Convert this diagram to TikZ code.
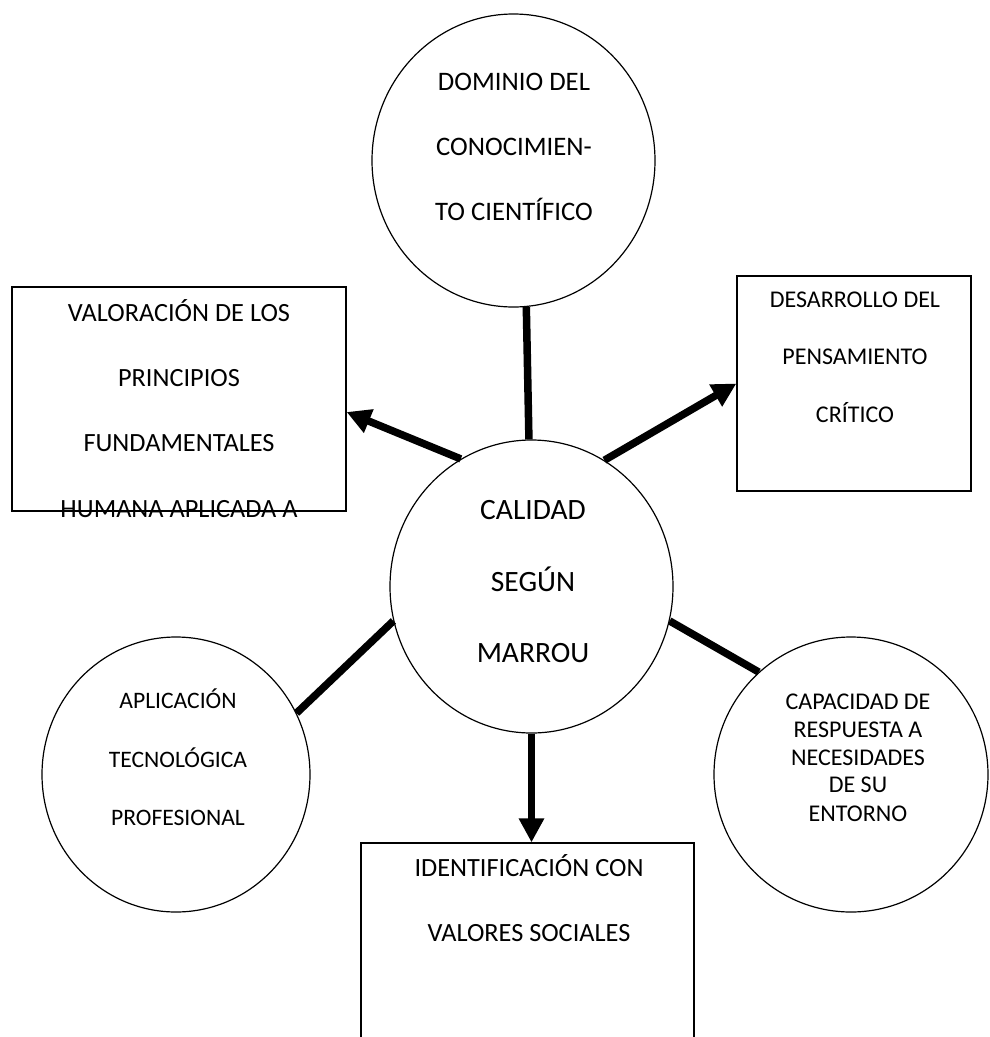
\documentclass[tikz,border=0pt]{standalone}
\usepackage{fontspec}
\setmainfont{Carlito}
\usetikzlibrary{shapes.geometric,arrows.meta}
\tikzset{
  shp/.style={draw, line width=1.2pt, inner sep=0pt, fill=white},
  oval/.style={shp, ellipse},
  boxs/.style={shp, rectangle},
  conn/.style={line width=7.5pt},
  arr/.style={conn, -{Triangle[length=24pt,width=24pt]}},
  txt/.style={anchor=base, inner sep=0pt},
}
\newcommand{\fs}[1]{\fontsize{#1}{#1}\selectfont}
\begin{document}
\begin{tikzpicture}[x=1pt,y=-1pt]
\useasboundingbox (0,0) rectangle (990,1037);
\clip (0,0) rectangle (990,1037);
% shapes
\node[oval, minimum width=283pt, minimum height=293pt] (dom) at (513.5,160.5) {};
\node[oval, minimum width=283pt, minimum height=293pt] (cal) at (531.5,586.5) {};
\node[oval, minimum width=268pt, minimum height=275pt] (apl) at (176,774.5) {};
\node[oval, minimum width=274pt, minimum height=275pt] (cap) at (851,774.5) {};
\node[boxs, minimum width=334pt, minimum height=224pt] (val) at (179,399) {};
\node[boxs, minimum width=234pt, minimum height=215pt] (des) at (854,383.5) {};
\node[boxs, minimum width=333pt, minimum height=230pt] (ide) at (527.5,958) {};
% connectors
\draw[conn] (dom.-85.5) -- (cal.91);
\draw[arr] (cal.119) -- ([yshift=-13pt]val.east);
\draw[arr] (cal.60) -- (des.west);
\draw[conn] (cal.194) -- (apl.27);
\draw[conn] (cal.-14) -- (cap.132);
\draw[arr] (cal.south) -- (cal.south |- ide.north);
% texts
\begin{scope}[font=\fs{26.7}]
\node[txt] (dom1) at (514,90.4) {DOMINIO DEL};
\node[txt] (dom2) at (514,155.4) {CONOCIMIEN-};
\node[txt] (dom3) at (514,220.4) {TO CIENTÍFICO};
\end{scope}
\begin{scope}[font=\fs{26.3}]
\node[txt] (val1) at (179,321.7) {VALORACIÓN DE LOS};
\node[txt] (val2) at (179,386.7) {PRINCIPIOS};
\node[txt] (val3) at (179,451.7) {FUNDAMENTALES};
\node[txt] (val4) at (179,517) {HUMANA APLICADA A};
\node[txt] (ide1) at (529,876) {IDENTIFICACIÓN CON};
\node[txt] (ide2) at (529,941.7) {VALORES SOCIALES};
\end{scope}
\begin{scope}[font=\fs{24}]
\node[txt] (des1) at (855,307.4) {DESARROLLO DEL};
\node[txt] (des2) at (855,364.6) {PENSAMIENTO};
\node[txt] (des3) at (855,422.4) {CRÍTICO};
\end{scope}
\begin{scope}[font=\fs{23.6}]
\node[txt] (apl1) at (178,708.3) {APLICACIÓN};
\node[txt] (apl2) at (178,767.3) {TECNOLÓGICA};
\node[txt] (apl3) at (178,825) {PROFESIONAL};
\end{scope}
\begin{scope}[font=\fs{29.5}]
\node[txt] (cal1) at (533,519) {CALIDAD};
\node[txt] (cal2) at (533,591) {SEGÚN};
\node[txt] (cal3) at (533,662.7) {MARROU};
\end{scope}
\begin{scope}[font=\fs{24}]
\node[txt] (cap1) at (858,709.3) {CAPACIDAD DE};
\node[txt] (cap2) at (858,737.3) {RESPUESTA A};
\node[txt] (cap3) at (858,765) {NECESIDADES};
\node[txt] (cap4) at (858,792.5) {DE SU};
\node[txt] (cap5) at (858,821.5) {ENTORNO};
\end{scope}
\end{tikzpicture}
\end{document}
